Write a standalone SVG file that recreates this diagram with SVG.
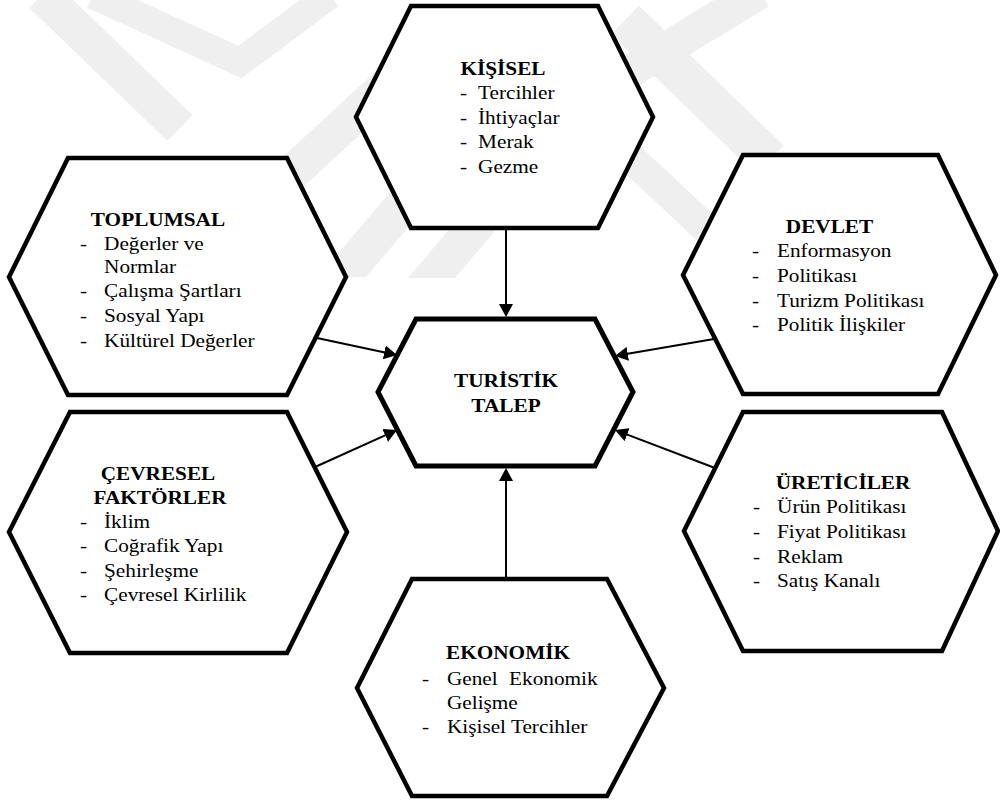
<svg xmlns="http://www.w3.org/2000/svg" width="1000" height="803" viewBox="0 0 1000 803">
  <defs>
    <style>
      .wm { fill: none; stroke: #efefef; stroke-linecap: butt; stroke-linejoin: miter; }
      .wmf { fill: #efefef; stroke: none; }
      .hex { fill: #ffffff; stroke: #000000; stroke-width: 4.5; stroke-linejoin: miter; }
      .hex-core { stroke-width: 5; }
      .edge { fill: none; stroke: #000000; stroke-width: 2; marker-end: url(#arrow); }
      text { font-family: "Liberation Serif", "Times New Roman", serif; font-size: 18.5px; fill: #000000; }
      .title { font-weight: bold; text-anchor: middle; }
    </style>
    <marker id="arrow" markerUnits="userSpaceOnUse" markerWidth="14" markerHeight="14" refX="9" refY="7" orient="auto">
      <path d="M0,0 L13,7 L0,14 z" fill="#000000"/>
    </marker>
  </defs>

  <rect width="1000" height="803" fill="#ffffff"/>

  <!-- faint background emblem -->
  <g id="emblem">
    <path class="wm" stroke-width="36" d="M42,-5 L180,128"/>
    <path class="wm" stroke-width="28" d="M93,-5 L240,62 L330,-5"/>
    <path class="wm" stroke-width="36" d="M230,230 L420,55"/>
    <polygon class="wmf" points="318,277 366,277 440,190 392,190"/>
    <polygon class="wmf" points="408,278 455,278 500,225 453,225"/>
    <path class="wm" stroke-width="34" d="M628,72 L760,-8"/>
    <path class="wm" stroke-width="40" d="M625,20 L770,160"/>
    <path class="wm" stroke-width="30" d="M590,120 L740,260"/>
  </g>

  <!-- nodes -->
  <g id="kisisel" font-family="Liberation Serif, Times New Roman, serif">
    <polygon class="hex" points="411,6 598,6 653,117 598,228 411,228 356,117"/>
    <g transform="translate(460,0) scale(1.15,1)">
      <text class="title" x="37.4" y="75">KİŞİSEL</text>
      <text x="0" y="99">-</text><text x="15.7" y="99">Tercihler</text>
      <text x="0" y="124">-</text><text x="15.7" y="124">İhtiyaçlar</text>
      <text x="0" y="148">-</text><text x="15.7" y="148">Merak</text>
      <text x="0" y="173">-</text><text x="15.7" y="173">Gezme</text>
    </g>
  </g>

  <g id="toplumsal">
    <polygon class="hex" points="68,158 287,158 346,277 287,395 68,395 9,277"/>
    <g transform="translate(80,0) scale(1.15,1)">
      <text class="title" x="67.8" y="226">TOPLUMSAL</text>
      <text x="0" y="250">-</text><text x="20.9" y="250">Değerler ve</text>
      <text x="20.9" y="273">Normlar</text>
      <text x="0" y="297">-</text><text x="20.9" y="297">Çalışma Şartları</text>
      <text x="0" y="322">-</text><text x="20.9" y="322">Sosyal Yapı</text>
      <text x="0" y="347">-</text><text x="20.9" y="347">Kültürel Değerler</text>
    </g>
  </g>

  <g id="devlet">
    <polygon class="hex" points="743,155 938,155 996,275 938,394 743,394 683,275"/>
    <g transform="translate(752,0) scale(1.15,1)">
      <text class="title" x="67.4" y="233">DEVLET</text>
      <text x="0" y="257">-</text><text x="21.7" y="257">Enformasyon</text>
      <text x="0" y="282">-</text><text x="21.7" y="282">Politikası</text>
      <text x="0" y="307">-</text><text x="21.7" y="307">Turizm Politikası</text>
      <text x="0" y="331">-</text><text x="21.7" y="331">Politik İlişkiler</text>
    </g>
  </g>

  <g id="cevresel">
    <polygon class="hex" points="70,412 287,412 347,532 287,653 70,653 9,532"/>
    <g transform="translate(80,0) scale(1.15,1)">
      <text class="title" x="67.8" y="480">ÇEVRESEL</text>
      <text class="title" x="69.6" y="504">FAKTÖRLER</text>
      <text x="0" y="528">-</text><text x="20.9" y="528">İklim</text>
      <text x="0" y="552">-</text><text x="20.9" y="552">Coğrafik Yapı</text>
      <text x="0" y="577">-</text><text x="20.9" y="577">Şehirleşme</text>
      <text x="0" y="601">-</text><text x="20.9" y="601">Çevresel Kirlilik</text>
    </g>
  </g>

  <g id="ureticiler">
    <polygon class="hex" points="743,412 942,412 998,531 942,651 743,651 684,531"/>
    <g transform="translate(753,0) scale(1.15,1)">
      <text class="title" x="78.3" y="489">ÜRETİCİLER</text>
      <text x="0" y="513">-</text><text x="20.9" y="513">Ürün Politikası</text>
      <text x="0" y="538">-</text><text x="20.9" y="538">Fiyat Politikası</text>
      <text x="0" y="563">-</text><text x="20.9" y="563">Reklam</text>
      <text x="0" y="587">-</text><text x="20.9" y="587">Satış Kanalı</text>
    </g>
  </g>

  <g id="ekonomik">
    <polygon class="hex" points="412,579 607,579 664,688 607,796 412,796 357,688"/>
    <g transform="translate(422,0) scale(1.15,1)">
      <text class="title" x="74.8" y="659">EKONOMİK</text>
      <text x="0" y="685">-</text><text x="21.7" y="685">Genel</text><text x="75.7" y="685">Ekonomik</text>
      <text x="21.7" y="709">Gelişme</text>
      <text x="0" y="733">-</text><text x="21.7" y="733">Kişisel Tercihler</text>
    </g>
  </g>

  <g id="turistik-talep">
    <polygon class="hex hex-core" points="416,319 595,319 633,392 595,466 416,466 378,392"/>
    <g transform="translate(506,0) scale(1.15,1)">
      <text class="title" x="0" y="387">TURİSTİK</text>
      <text class="title" x="0" y="412">TALEP</text>
    </g>
  </g>

  <!-- connectors -->
  <g id="connectors">
    <path class="edge" d="M506,229 L506,313"/>
    <path class="edge" d="M506,578 L506,472"/>
    <path class="edge" d="M317,338 L393.1,354.2"/>
    <path class="edge" d="M315,467 L393.4,431.7"/>
    <path class="edge" d="M714,339 L618.9,355.3"/>
    <path class="edge" d="M715,468 L618.7,431.4"/>
  </g>
</svg>
